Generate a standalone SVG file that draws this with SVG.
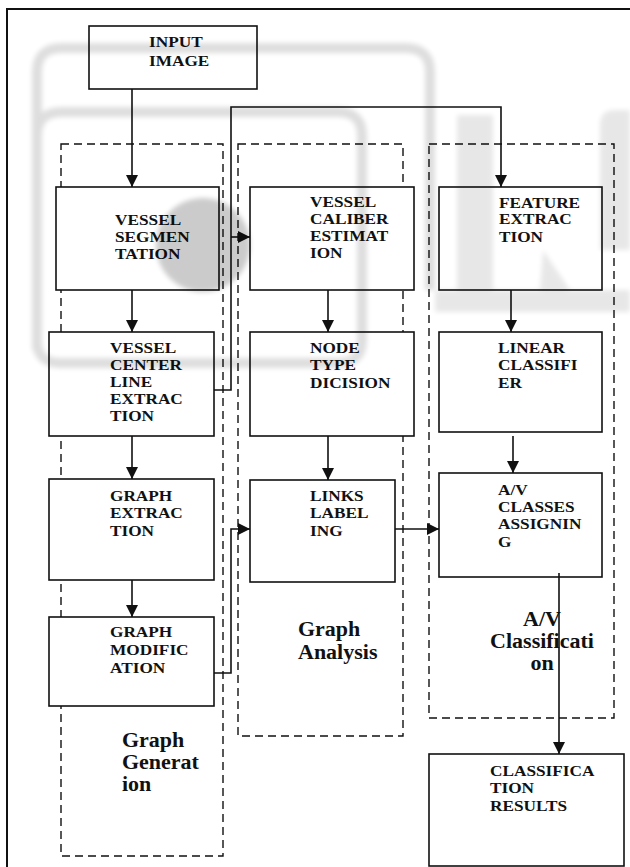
<svg xmlns="http://www.w3.org/2000/svg" width="630" height="867" viewBox="0 0 630 867">
<style>
.box{fill:#fff;stroke:#111;stroke-width:1.6}
.dash{fill:none;stroke:#111;stroke-width:1.4;stroke-dasharray:8,5}
.con{fill:none;stroke:#111;stroke-width:1.6}
.t{font-family:"Liberation Serif","Times New Roman",serif;font-weight:bold;font-size:15px;fill:#111}
.lb{font-family:"Liberation Serif","Times New Roman",serif;font-weight:bold;font-size:20px;fill:#111}
</style>
<defs>
<marker id="ah" markerUnits="userSpaceOnUse" markerWidth="13" markerHeight="13" refX="12" refY="6" orient="auto">
<path d="M0,0 L12,6 L0,12 z" fill="#111"/>
</marker>
<filter id="soft" x="-10%" y="-10%" width="120%" height="120%"><feGaussianBlur stdDeviation="2.5"/></filter>
</defs>
<rect width="630" height="867" fill="#fff"/>
<path d="M7,867 V9 H630" fill="none" stroke="#111" stroke-width="2"/>

<g id="groups">
<rect class="dash" x="61" y="144" width="162" height="712"/>
<rect class="dash" x="238" y="144" width="165" height="592"/>
<rect class="dash" x="429" y="144" width="185" height="574"/>
</g>

<g id="input"><rect class="box" x="89" y="26" width="168" height="63"/></g>
<g id="seg"><rect class="box" x="56" y="187" width="163" height="103"/></g>
<g id="center"><rect class="box" x="49" y="332" width="165" height="104"/></g>
<g id="gext"><rect class="box" x="49" y="479" width="165" height="101"/></g>
<g id="gmod"><rect class="box" x="49" y="617" width="165" height="89"/></g>
<g id="caliber"><rect class="box" x="250" y="187" width="164" height="103"/></g>
<g id="node"><rect class="box" x="250" y="332" width="164" height="104"/></g>
<g id="links"><rect class="box" x="250" y="480" width="145" height="102"/></g>
<g id="feature"><rect class="box" x="439" y="187" width="163" height="103"/></g>
<g id="linear"><rect class="box" x="439" y="332" width="163" height="100"/></g>
<g id="avassign"><rect class="box" x="439" y="473" width="163" height="104"/></g>
<g id="results"><rect class="box" x="429" y="754" width="195" height="112"/></g>

<g id="connectors">
<path class="con" d="M132,89 V187" marker-end="url(#ah)"/>
<path class="con" d="M132,290 V332" marker-end="url(#ah)"/>
<path class="con" d="M132,436 V479" marker-end="url(#ah)"/>
<path class="con" d="M132,580 V617" marker-end="url(#ah)"/>
<path class="con" d="M214,390 H231 V107 H501 V187" marker-end="url(#ah)"/>
<path class="con" d="M231,237 H250" marker-end="url(#ah)"/>
<path class="con" d="M214,673 H231 V529 H250" marker-end="url(#ah)"/>
<path class="con" d="M328,290 V332" marker-end="url(#ah)"/>
<path class="con" d="M328,436 V480" marker-end="url(#ah)"/>
<path class="con" d="M395,529 H439" marker-end="url(#ah)"/>
<path class="con" d="M511,290 V332" marker-end="url(#ah)"/>
<path class="con" d="M513,436 V473" marker-end="url(#ah)"/>
<path class="con" d="M559,573 V754" marker-end="url(#ah)"/>
</g>

<g id="texts">
<text class="t" transform="translate(149,47) scale(1.15,1)"><tspan x="0" y="0">INPUT</tspan><tspan x="0" y="19">IMAGE</tspan></text>
<text class="t" transform="translate(115,225) scale(1.15,1)"><tspan x="0" y="0">VESSEL</tspan><tspan x="0" y="17">SEGMEN</tspan><tspan x="0" y="34">TATION</tspan></text>
<text class="t" transform="translate(110,353) scale(1.15,1)"><tspan x="0" y="0">VESSEL</tspan><tspan x="0" y="17">CENTER</tspan><tspan x="0" y="34">LINE</tspan><tspan x="0" y="51">EXTRAC</tspan><tspan x="0" y="68">TION</tspan></text>
<text class="t" transform="translate(110,501) scale(1.15,1)"><tspan x="0" y="0">GRAPH</tspan><tspan x="0" y="17">EXTRAC</tspan><tspan x="0" y="35">TION</tspan></text>
<text class="t" transform="translate(110,637) scale(1.15,1)"><tspan x="0" y="0">GRAPH</tspan><tspan x="0" y="18">MODIFIC</tspan><tspan x="0" y="36">ATION</tspan></text>
<text class="t" transform="translate(310,207) scale(1.15,1)"><tspan x="0" y="0">VESSEL</tspan><tspan x="0" y="17">CALIBER</tspan><tspan x="0" y="34">ESTIMAT</tspan><tspan x="0" y="51">ION</tspan></text>
<text class="t" transform="translate(310,353) scale(1.15,1)"><tspan x="0" y="0">NODE</tspan><tspan x="0" y="17">TYPE</tspan><tspan x="0" y="35">DICISION</tspan></text>
<text class="t" transform="translate(310,501) scale(1.15,1)"><tspan x="0" y="0">LINKS</tspan><tspan x="0" y="17">LABEL</tspan><tspan x="0" y="35">ING</tspan></text>
<text class="t" transform="translate(499,208) scale(1.15,1)"><tspan x="0" y="0">FEATURE</tspan><tspan x="0" y="16">EXTRAC</tspan><tspan x="0" y="34">TION</tspan></text>
<text class="t" transform="translate(498,353) scale(1.15,1)"><tspan x="0" y="0">LINEAR</tspan><tspan x="0" y="17">CLASSIFI</tspan><tspan x="0" y="35">ER</tspan></text>
<text class="t" transform="translate(498,495) scale(1.15,1)"><tspan x="0" y="0">A/V</tspan><tspan x="0" y="17">CLASSES</tspan><tspan x="0" y="34">ASSIGNIN</tspan><tspan x="0" y="52">G</tspan></text>
<text class="t" transform="translate(490,776) scale(1.15,1)"><tspan x="0" y="0">CLASSIFICA</tspan><tspan x="0" y="17">TION</tspan><tspan x="0" y="35">RESULTS</tspan></text>
<text class="lb" transform="translate(122,747) scale(1.1,1)"><tspan x="0" y="0">Graph</tspan><tspan x="0" y="22">Generat</tspan><tspan x="0" y="44">ion</tspan></text>
<text class="lb" transform="translate(298,636) scale(1.1,1)"><tspan x="0" y="0">Graph</tspan><tspan x="0" y="23">Analysis</tspan></text>
<text class="lb" text-anchor="middle" transform="translate(542,626) scale(1.1,1)"><tspan x="0" y="0">A/V</tspan><tspan x="0" y="22">Classificati</tspan><tspan x="0" y="44">on</tspan></text>
</g>

<g id="watermark" opacity="0.13" filter="url(#soft)">
<path d="M37,350 V72 Q37,48 62,48 H405 Q430,48 430,72 V290" fill="none" stroke="#000" stroke-width="10"/>
<path d="M37,136 Q37,112 62,112 H338 Q362,112 362,136 V340 Q362,363 338,363 H60 Q37,363 37,340" fill="none" stroke="#000" stroke-width="10"/>
</g>
<g opacity="0.09" filter="url(#soft)">
<rect x="457" y="115" width="36" height="180" fill="#000"/>
<rect x="435" y="290" width="195" height="22" fill="#000"/>
<path d="M630,110 H615 Q600,110 600,125 V250 H630 Z" fill="#000"/>
<path d="M543,250 L570,290 H540 Z" fill="#000"/>
</g>
<g opacity="0.2" filter="url(#soft)"><circle cx="203" cy="245" r="47" fill="#000"/></g>
</svg>
